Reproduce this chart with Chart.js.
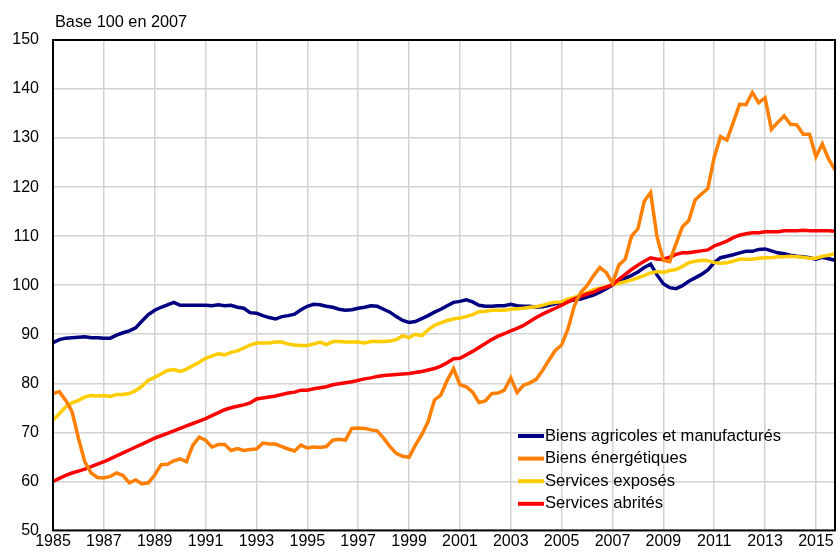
<!DOCTYPE html>
<html lang="fr">
<head>
<meta charset="utf-8">
<title>Prix par grand secteur, base 100 en 2007</title>
<script src="https://cdn.jsdelivr.net/npm/chart.js@4.4.1/dist/chart.umd.min.js"></script>
<style>
  html, body { margin: 0; padding: 0; background: #fff; }
  #wrap { width: 837px; height: 554px; }
</style>
</head>
<body>
<div id="wrap"><canvas id="chart" width="837" height="554"></canvas></div>
<script>
// --- Data: quarterly index, 1985 T1 to 2015 T4 (base 100 en 2007) ---
const firstYear = 1985;
const lastYear = 2015;
const tickYears = [1985, 1987, 1989, 1991, 1993, 1995, 1997, 1999, 2001, 2003, 2005, 2007, 2009, 2011, 2013, 2015];

const biensAgricoles = [
  88.3, 88.9, 89.2, 89.3,  89.4, 89.5, 89.3, 89.3,  89.2, 89.2, 89.8, 90.3,  90.7, 91.3, 92.7, 94.0,
  94.9, 95.5, 96.0, 96.5,  95.9, 95.9, 95.9, 95.9,  95.9, 95.8, 96.0, 95.8,  95.9, 95.5, 95.3, 94.4,
  94.3, 93.8, 93.4, 93.1,  93.6, 93.8, 94.1, 95.0,  95.7, 96.1, 96.0, 95.7,  95.5, 95.1, 94.9, 95.0,
  95.3, 95.5, 95.8, 95.7,  95.1, 94.5, 93.6, 92.8,  92.4, 92.6, 93.2, 93.8,  94.5, 95.1, 95.8, 96.5,
  96.7, 97.0, 96.6, 95.9,  95.7, 95.7, 95.8, 95.8,  96.1, 95.8, 95.7, 95.7,  95.5, 95.6, 95.9, 96.2,
  96.5, 96.7, 97.0, 97.2,  97.6, 98.0, 98.6, 99.3,  100.0, 100.7, 101.4, 102.0,  102.7, 103.6, 104.3, 102.1,
  100.3, 99.5, 99.3, 99.9,  100.8, 101.5, 102.2, 103.1,  104.6, 105.6, 105.9, 106.2,  106.6, 106.9, 106.9, 107.3,
  107.4, 107.0, 106.6, 106.4,  106.1, 105.9, 105.8, 105.6,  105.3, 105.7, 105.4, 105.1
];

const biensEnergetiques = [
  77.9, 78.3, 76.5, 74.2,  68.8, 64.0, 61.7, 60.8,  60.7, 61.0, 61.7, 61.2,  59.7, 60.3, 59.5, 59.7,
  61.3, 63.4, 63.5, 64.2,  64.6, 64.0, 67.4, 69.0,  68.4, 67.0, 67.5, 67.5,  66.3, 66.7, 66.3, 66.5,
  66.6, 67.8, 67.6, 67.6,  67.1, 66.6, 66.2, 67.4,  66.8, 67.0, 66.9, 67.1,  68.4, 68.6, 68.4, 70.8,
  70.9, 70.8, 70.5, 70.3,  68.8, 67.1, 65.7, 65.1,  64.9, 67.4, 69.5, 72.2,  76.6, 77.6, 80.6, 83.0,
  79.7, 79.3, 78.2, 76.1,  76.4, 77.9, 78.0, 78.6,  81.1, 78.1, 79.6, 80.1,  80.8, 82.6, 84.7, 86.7,
  87.8, 91.1, 95.8, 98.5,  99.9, 101.9, 103.6, 102.6,  100.4, 104.1, 105.3, 110.0,  111.5, 117.1, 118.9, 109.9,
  105.1, 104.8, 108.5, 111.9,  113.2, 117.4, 118.6, 119.7,  126.1, 130.3, 129.6, 133.2,  136.9, 136.8, 139.3, 137.2,
  138.2, 131.8, 133.2, 134.5,  132.8, 132.7, 130.8, 130.8,  126.2, 128.8, 125.7, 123.5
];

const servicesExposes = [
  72.5, 73.8, 75.2, 76.0,  76.5, 77.2, 77.5, 77.4,  77.5, 77.3, 77.7, 77.7,  77.9, 78.5, 79.4, 80.6,
  81.2, 81.9, 82.6, 82.8,  82.4, 82.9, 83.6, 84.3,  85.1, 85.6, 86.0, 85.8,  86.3, 86.6, 87.2, 87.8,
  88.2, 88.2, 88.2, 88.4,  88.4, 88.0, 87.8, 87.7,  87.7, 88.0, 88.4, 87.9,  88.5, 88.5, 88.4, 88.4,
  88.4, 88.2, 88.5, 88.5,  88.5, 88.6, 88.9, 89.7,  89.3, 90.0, 89.7, 90.9,  91.8, 92.3, 92.8, 93.1,
  93.3, 93.6, 94.0, 94.6,  94.7, 94.9, 94.9, 94.9,  95.1, 95.2, 95.3, 95.5,  95.6, 95.9, 96.3, 96.5,
  96.6, 97.2, 97.5, 98.0,  98.5, 99.1, 99.4, 99.7,  100.1, 100.4, 100.7, 101.1,  101.5, 102.0, 102.5, 102.8,
  102.6, 103.0, 103.2, 103.8,  104.6, 104.9, 105.1, 105.0,  104.6, 104.5, 104.6, 104.9,  105.3, 105.3, 105.3, 105.5,
  105.6, 105.6, 105.8, 105.8,  105.9, 105.8, 105.7, 105.5,  105.5, 105.9, 106.1, 106.4
];

const servicesAbrites = [
  60.0, 60.6, 61.2, 61.7,  62.1, 62.5, 63.0, 63.5,  64.0, 64.6, 65.2, 65.8,  66.4, 67.0, 67.6, 68.2,
  68.8, 69.3, 69.8, 70.3,  70.8, 71.3, 71.8, 72.3,  72.8, 73.4, 74.0, 74.6,  75.0, 75.3, 75.6, 76.0,
  76.8, 77.0, 77.2, 77.4,  77.7, 78.0, 78.2, 78.6,  78.6, 78.9, 79.1, 79.3,  79.7, 79.9, 80.1, 80.3,
  80.6, 80.9, 81.1, 81.4,  81.6, 81.7, 81.8, 81.9,  82.0, 82.2, 82.4, 82.7,  83.0, 83.5, 84.2, 85.0,
  85.1, 85.8, 86.5, 87.3,  88.1, 88.9, 89.6, 90.1,  90.7, 91.2, 91.8, 92.6,  93.4, 94.1, 94.7, 95.3,
  95.9, 96.6, 97.2, 97.7,  98.2, 98.6, 99.2, 99.6,  100.1, 101.2, 102.2, 103.2,  104.1, 104.9, 105.6, 105.3,
  105.3, 105.7, 106.3, 106.6,  106.6, 106.8, 107.0, 107.2,  108.0, 108.5, 109.0, 109.7,  110.2, 110.5, 110.7, 110.7,
  110.9, 110.9, 110.9, 111.1,  111.1, 111.1, 111.2, 111.1,  111.1, 111.1, 111.1, 111.0
];

// quarter labels "1985T1" ... "2015T4"
const quarters = [];
for (let y = firstYear; y <= lastYear; y++) {
  for (let q = 1; q <= 4; q++) quarters.push(y + 'T' + q);
}

const FONT = '"Liberation Sans", Arial, sans-serif';
const GRID = '#d2d2d2';

// --- Plugins: black frame, unit note, legend drawn inside the plot ---
const framePlugin = {
  id: 'frame',
  afterDraw(chart) {
    const { ctx, chartArea: a } = chart;
    ctx.save();
    ctx.strokeStyle = '#000';
    ctx.lineWidth = 2;
    ctx.strokeRect(a.left, a.top, a.right - a.left, a.bottom - a.top);
    ctx.fillStyle = '#000';
    ctx.font = '16.3px ' + FONT;
    ctx.textBaseline = 'alphabetic';
    ctx.fillText('Base 100 en 2007', 55, 27);
    ctx.restore();
  }
};

const insideLegend = {
  id: 'insideLegend',
  afterDatasetsDraw(chart) {
    const { ctx } = chart;
    const x0 = 518, y0 = 436, step = 22.6;
    ctx.save();
    ctx.font = '16.6px ' + FONT;
    ctx.textBaseline = 'middle';
    chart.data.datasets.forEach((ds, i) => {
      const y = y0 + i * step;
      ctx.strokeStyle = ds.borderColor;
      ctx.lineWidth = 4;
      ctx.beginPath();
      ctx.moveTo(x0, y);
      ctx.lineTo(x0 + 26, y);
      ctx.stroke();
      ctx.fillStyle = '#000';
      ctx.fillText(ds.label, x0 + 27, y);
    });
    ctx.restore();
  }
};

function series(label, data, color, order) {
  return {
    label, data, order,
    borderColor: color,
    backgroundColor: color,
    borderWidth: 3.5,
    pointRadius: 0,
    tension: 0,
    fill: false
  };
}

new Chart(document.getElementById('chart'), {
  type: 'line',
  data: {
    labels: quarters,
    datasets: [
      series('Biens agricoles et manufacturés', biensAgricoles, '#000080', 4),
      series('Biens énergétiques', biensEnergetiques, '#ff7f00', 1),
      series('Services exposés', servicesExposes, '#ffcc00', 3),
      series('Services abrités', servicesAbrites, '#ff0000', 2)
    ]
  },
  options: {
    responsive: false,
    animation: false,
    devicePixelRatio: 1,
    layout: { padding: { top: 40, left: 0, right: 0, bottom: 0 } },
    plugins: {
      legend: { display: false },
      tooltip: { enabled: false }
    },
    scales: {
      x: {
        offset: false,
        border: { display: false },
        grid: {
          drawTicks: false,
          color: c => (c.index % 8 === 0 ? GRID : 'rgba(0,0,0,0)'),
          lineWidth: 1.5
        },
        ticks: {
          autoSkip: false,
          maxRotation: 0,
          padding: 2,
          color: '#000',
          font: { family: FONT, size: 16 },
          callback: (v, i) => {
            const year = firstYear + Math.floor(i / 4);
            return i % 4 === 0 && tickYears.includes(year) ? String(year) : '';
          }
        },
        afterFit: s => { s.height = 22; }
      },
      y: {
        min: 50,
        max: 150,
        border: { display: false },
        grid: { drawTicks: false, color: GRID, lineWidth: 1.5 },
        ticks: {
          stepSize: 10,
          padding: 14,
          color: '#000',
          font: { family: FONT, size: 16 }
        },
        afterFit: s => { s.width = 53; }
      }
    }
  },
  plugins: [framePlugin, insideLegend]
});
</script>
</body>
</html>
